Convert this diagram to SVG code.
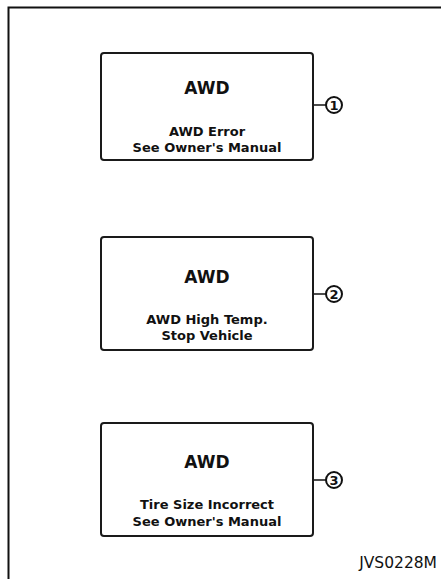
<svg xmlns="http://www.w3.org/2000/svg" width="441" height="579" viewBox="0 0 441 579">
<style>
.box{fill:#fff;stroke:#1a1a1a;stroke-width:2}
.title{font-family:"DejaVu Sans","Liberation Sans",sans-serif;font-weight:bold;font-size:17px;fill:#111;text-anchor:middle}
.msg{font-family:"DejaVu Sans","Liberation Sans",sans-serif;font-weight:bold;font-size:13px;fill:#111;text-anchor:middle}
.num{font-family:"DejaVu Sans","Liberation Sans",sans-serif;font-weight:bold;font-size:13px;fill:#111;text-anchor:middle}
.circ{fill:#fff;stroke:#111;stroke-width:2}
.conn{stroke:#111;stroke-width:1.5;fill:none}
</style>
<rect x="0" y="0" width="441" height="579" fill="#fff"/>
<path d="M8.5 579 V7.5 H441" fill="none" stroke="#111" stroke-width="2"/>
<g id="connectors">
<line class="conn" x1="313" y1="105" x2="326" y2="105"/>
<line class="conn" x1="313" y1="294" x2="326" y2="294"/>
<line class="conn" x1="313" y1="480" x2="326" y2="480"/>
</g>
<g id="node1">
<rect class="box" x="101" y="53" width="212" height="107" rx="3"/>
<text class="title" x="207" y="94">AWD</text>
<text class="msg" x="207" y="136">AWD Error</text>
<text class="msg" x="207" y="152">See Owner's Manual</text>
</g>
<g id="node2">
<rect class="box" x="101" y="237" width="212" height="113" rx="3"/>
<text class="title" x="207" y="283">AWD</text>
<text class="msg" x="207" y="324">AWD High Temp.</text>
<text class="msg" x="207" y="340">Stop Vehicle</text>
</g>
<g id="node3">
<rect class="box" x="101" y="423" width="212" height="113" rx="3"/>
<text class="title" x="207" y="468">AWD</text>
<text class="msg" x="207" y="509">Tire Size Incorrect</text>
<text class="msg" x="207" y="526">See Owner's Manual</text>
</g>
<g id="label1">
<circle class="circ" cx="334" cy="105" r="8"/>
<text class="num" x="334" y="110">1</text>
</g>
<g id="label2">
<circle class="circ" cx="334" cy="294" r="8"/>
<text class="num" x="334" y="299">2</text>
</g>
<g id="label3">
<circle class="circ" cx="334" cy="480" r="8"/>
<text class="num" x="334" y="485">3</text>
</g>
<text x="437" y="568" font-family="'DejaVu Sans',sans-serif" font-size="15.5" fill="#111" text-anchor="end">JVS0228M</text>
</svg>
